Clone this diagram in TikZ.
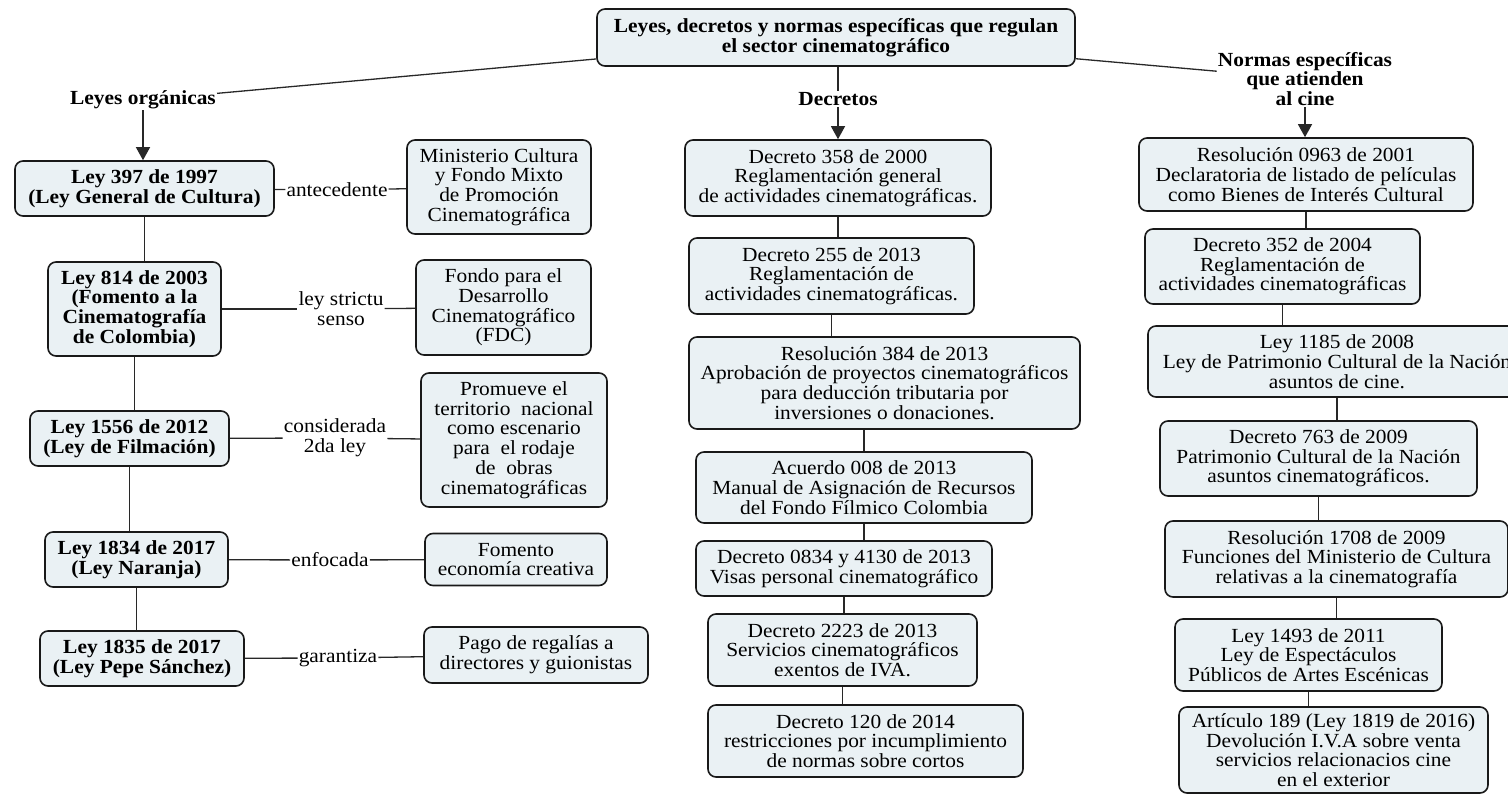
\documentclass[tikz,border=0pt]{standalone}
\usepackage{fontspec}
\setmainfont{Liberation Serif}[FakeStretch=1.07]
\usepackage{tikz}
\usetikzlibrary{calc}
\usetikzlibrary{arrows.meta}
\usetikzlibrary{positioning}
\definecolor{cfill}{RGB}{234,241,244}
\definecolor{cline}{RGB}{40,40,40}
\tikzset{concept/.style={rectangle,rounded corners=8pt,draw=black!90,line width=1.6pt,fill=cfill,inner sep=0pt,align=center,font=\fontsize{20}{19.7}\selectfont}}
\tikzset{bconcept/.style={concept,font=\fontsize{20}{19.7}\selectfont\bfseries}}
\tikzset{phrase/.style={inner sep=1pt,align=center,font=\fontsize{20}{19.7}\selectfont}}
\tikzset{bphrase/.style={phrase,font=\fontsize{20}{19.7}\selectfont\bfseries}}
\tikzset{wh/.style 2 args={minimum width=#1pt,minimum height=#2pt}}
\tikzset{link/.style={draw=cline,line width=1.3pt}}
\tikzset{arr/.style={link,-{Triangle[width=14pt,length=13pt]}}}

\begin{document}
\begin{tikzpicture}[x=1pt,y=-1pt]
\useasboundingbox (0,0) rectangle (1508,795);
\clip (0,0) rectangle (1508,795);

% top concept and the three branches
\node[bconcept,wh={478}{57}] (root) at (836,37.5) {Leyes, decretos y normas específicas que regulan\\el sector cinematográfico};
\node[bphrase] (orgL) at (143,100) {Leyes orgánicas};
\node[bphrase] (decL) at (838,99) {Decretos};
\node[bphrase] (normL) at (1305,79) {Normas específicas\\que atienden\\al cine};

% leyes organicas
\node[bconcept,wh={259}{55}] (L397) at (144.5,188.5) {Ley 397 de 1997\\(Ley General de Cultura)};
\node[bconcept,wh={173}{94}] (L814) at (134.5,309) {Ley 814 de 2003\\(Fomento a la\\Cinematografía\\de Colombia)};
\node[bconcept,wh={199}{55}] (L1556) at (129.5,438.5) {Ley 1556 de 2012\\(Ley de Filmación)};
\node[bconcept,wh={183}{55}] (L1834) at (136.5,559.5) {Ley 1834 de 2017\\(Ley Naranja)};
\node[bconcept,wh={204}{55}] (L1835) at (142,658.5) {Ley 1835 de 2017\\(Ley Pepe Sánchez)};

\node[concept,wh={184}{94}] (Min) at (499,187) {Ministerio Cultura\\y Fondo Mixto\\de Promoción\\Cinematográfica};
\node[concept,wh={175}{95}] (FDC) at (503.5,307.5) {Fondo para el\\Desarrollo\\Cinematográfico\\(FDC)};
\node[concept,wh={186}{134}] (Prom) at (514,440) {Promueve el\\territorio~ nacional\\como escenario\\para~ el rodaje\\de~ obras\\cinematográficas};
\node[concept,wh={182}{52}] (Fom) at (516,559.5) {Fomento\\economía creativa};
\node[concept,wh={224}{56}] (Pago) at (536,655) {Pago de regalías a\\directores y guionistas};

\node[phrase] (antL) at (337,190) {antecedente};
\node[phrase] (lssL) at (341,309) {ley strictu\\senso};
\node[phrase] (conL) at (335,438) {considerada\\2da ley};
\node[phrase] (enfL) at (330,560) {enfocada};
\node[phrase] (garL) at (338,658) {garantiza};

% decretos
\node[concept,wh={306}{76}] (D358) at (838,178) {Decreto 358 de 2000\\Reglamentación general\\de actividades cinematográficas.};
\node[concept,wh={285}{76}] (D255) at (831.5,276) {Decreto 255 de 2013\\Reglamentación de\\actividades cinematográficas.};
\node[concept,wh={391}{92}] (R384) at (884.5,383) {Resolución 384 de 2013\\Aprobación de proyectos cinematográficos\\para deducción tributaria por\\inversiones o donaciones.};
\node[concept,wh={336}{71}] (A008) at (864,487.5) {Acuerdo 008 de 2013\\Manual de Asignación de Recursos\\del Fondo Fílmico Colombia};
\node[concept,wh={296}{55}] (D0834) at (844,568.5) {Decreto 0834 y 4130 de 2013\\Visas personal cinematográfico};
\node[concept,wh={269}{72}] (D2223) at (842.5,650) {Decreto 2223 de 2013\\Servicios cinematográficos\\exentos de IVA.};
\node[concept,wh={315}{72}] (D120) at (865.5,741) {Decreto 120 de 2014\\restricciones por incumplimiento\\de normas sobre cortos};

% normas especificas
\node[concept,wh={334}{73}] (R0963) at (1306,174.5) {Resolución 0963 de 2001\\Declaratoria de listado de películas\\como Bienes de Interés Cultural};
\node[concept,wh={275}{75}] (D352) at (1282.5,266.5) {Decreto 352 de 2004\\Reglamentación de\\actividades cinematográficas};
\node[concept,wh={378}{71}] (L1185) at (1337,361.5) {Ley 1185 de 2008\\Ley de Patrimonio Cultural de la Nación\\asuntos de cine.};
\node[concept,wh={317}{75}] (D763) at (1318.5,458.5) {Decreto 763 de 2009\\Patrimonio Cultural de la Nación\\asuntos cinematográficos.};
\node[concept,wh={343}{76}] (R1708) at (1336.5,559) {Resolución 1708 de 2009\\Funciones del Ministerio de Cultura\\relativas a la cinematografía};
\node[concept,wh={267}{72}] (L1493) at (1308.5,655) {Ley 1493 de 2011\\Ley de Espectáculos\\Públicos de Artes Escénicas};
\node[concept,wh={309}{86}] (A189) at (1333.5,750) {Artículo 189 (Ley 1819 de 2016)\\Devolución I.V.A sobre venta\\servicios relacionacios cine\\en el exterior};

% connectors
\draw[link] (root) -- (orgL);
\draw[link] (root.south -| decL.north) -- (decL.north);
\draw[link] (root) -- (normL);
\draw[arr] (orgL.south) -- (orgL.south |- L397.north);
\draw[arr] (decL.south) -- (decL.south |- D358.north);
\draw[arr] (normL.south) -- (normL.south |- R0963.north);

\foreach \a/\b in {L397/L814,L814/L1556,L1556/L1834,L1834/L1835,
                   D358/D255,D255/R384,A008/D0834,D0834/D2223,D2223/D120,
                   R0963/D352,D352/L1185,L1185/D763,D763/R1708,R1708/L1493,L1493/A189}
  \draw[link] (\a.south) -- (\a.south |- \b.north);
\draw[link] (A008.north |- R384.south) -- (A008.north);

\foreach \a/\p/\b in {L397/antL/Min,L814/lssL/FDC,L1556/conL/Prom,L1834/enfL/Fom,L1835/garL/Pago}{
  \draw[link] (\a) -- (\p);
  \draw[link] (\p) -- (\b);
}
\end{tikzpicture}
\end{document}
